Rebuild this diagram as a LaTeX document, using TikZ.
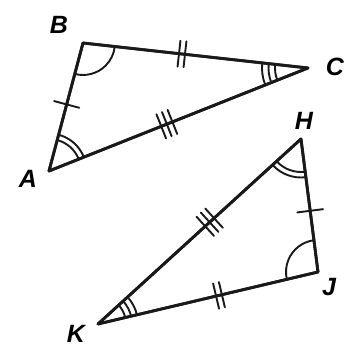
\documentclass[tikz,border=0pt]{standalone}
\usepackage{fontspec}
\setmainfont{Liberation Sans}
\usetikzlibrary{angles,decorations.markings}
\begin{document}
\begin{tikzpicture}[x=1pt,y=1pt,
  side/.style={line width=2.8pt, line join=round, line cap=round, draw=black!90},
  arcline/.style={draw=black!90, line width=1.9pt},
  tickline/.style={draw=black!90, line width=1.9pt},
  lbl/.style={font=\fontsize{25}{25}\selectfont\bfseries\itshape, inner sep=0pt},
  tickA/.style={postaction={decorate, decoration={markings, mark=at position #1 with {\draw[tickline] (0,-13pt) -- (0,13pt);}}}},
  tickB/.style={postaction={decorate, decoration={markings, mark=at position #1 with {\draw[tickline] (-3pt,-13pt) -- (-3pt,13pt); \draw[tickline] (3pt,-13pt) -- (3pt,13pt);}}}},
  tickC/.style={postaction={decorate, decoration={markings, mark=at position #1 with {\draw[tickline] (-6pt,-13pt) -- (-6pt,13pt); \draw[tickline] (0pt,-13pt) -- (0pt,13pt); \draw[tickline] (6pt,-13pt) -- (6pt,13pt);}}}}
]
\useasboundingbox (0,0) rectangle (360,350);
% vertices
\coordinate (A) at (49,179);
\coordinate (B) at (83,307);
\coordinate (C) at (308,282);
\coordinate (H) at (301,211);
\coordinate (J) at (318,78);
\coordinate (K) at (98,26);
% angle marks
\pic[arcline, angle radius=32] {angle = A--B--C};
\pic[arcline, angle radius=32] {angle = C--A--B};
\pic[arcline, angle radius=37.5] {angle = C--A--B};
\pic[arcline, angle radius=33] {angle = B--C--A};
\pic[arcline, angle radius=39.5] {angle = B--C--A};
\pic[arcline, angle radius=46] {angle = B--C--A};
\pic[arcline, angle radius=33] {angle = K--H--J};
\pic[arcline, angle radius=38.5] {angle = K--H--J};
\pic[arcline, angle radius=32] {angle = H--J--K};
\pic[arcline, angle radius=28] {angle = J--K--H};
\pic[arcline, angle radius=34] {angle = J--K--H};
\pic[arcline, angle radius=40] {angle = J--K--H};
% sides
\draw[side, tickA=0.52] (A) -- (B);
\draw[side, tickB=0.44] (B) -- (C);
\draw[side, tickC=0.455] (A) -- (C);
\draw[side] (A) -- (B) -- (C) -- cycle;
\draw[side, tickA=0.54] (H) -- (J);
\draw[side, tickC=0.55] (K) -- (H);
\draw[side, tickB=0.55] (K) -- (J);
\draw[side] (H) -- (J) -- (K) -- cycle;
% labels
\node[lbl] (lA) at (28,171) {A};
\node[lbl] (lB) at (59,325) {B};
\node[lbl] (lC) at (335,283) {C};
\node[lbl] (lH) at (304,229) {H};
\node[lbl] (lJ) at (329,63) {J};
\node[lbl] (lK) at (76,16) {K};
\end{tikzpicture}
\end{document}
